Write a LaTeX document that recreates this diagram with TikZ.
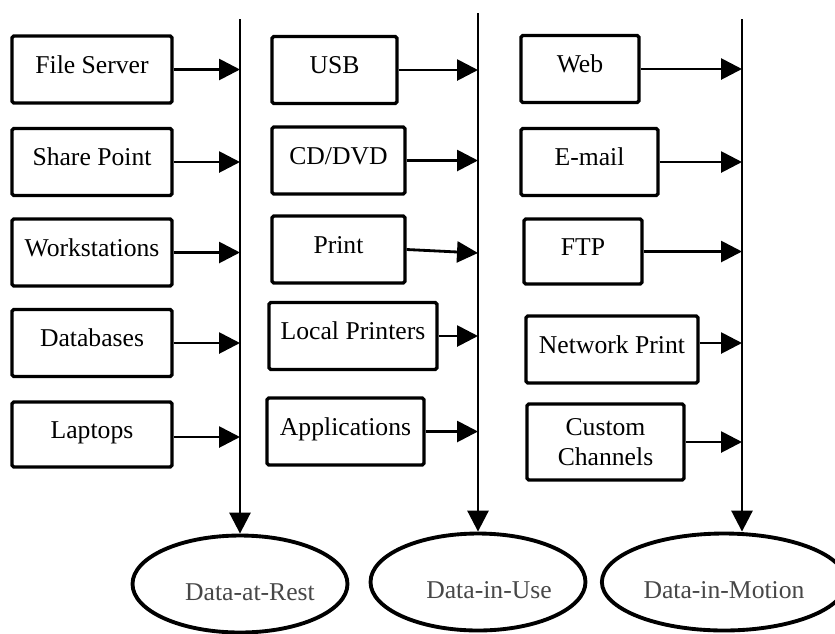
\documentclass[tikz,border=0pt]{standalone}
\usepackage{fontspec}
\setmainfont{Liberation Serif}
\usetikzlibrary{arrows.meta,shapes.geometric,calc}

\begin{document}
\begin{tikzpicture}[x=0.02cm,y=-0.02cm,
  box/.style={draw, line width=1.9pt, rounded corners=1pt, minimum height=1.34cm,
    font=\fontsize{14.6pt}{17pt}\selectfont, text height=12pt, text depth=8pt},
  store/.style={ellipse, draw, line width=2.2pt, minimum width=4.3cm, minimum height=1.94cm,
    font=\fontsize{14.6pt}{17pt}\selectfont, text=black!72, text height=19pt, text depth=0pt},
  arr/.style={line width=1.6pt, -{Triangle[length=0.42cm,width=0.42cm]}}]
\useasboundingbox (0,0) rectangle (835,633);

\coordinate (rtop) at (240,19);
\coordinate (utop) at (478,13);
\coordinate (mtop) at (742,19);

\node[store] (rest) at (240,584) {\hspace*{0.2cm}Data-at-Rest\hspace*{-0.2cm}};
\node[store] (use) at (478,582) {\hspace*{0.22cm}Data-in-Use\hspace*{-0.22cm}};
\node[store, minimum width=4.44cm] (motion) at (724,582) {Data-in-Motion};

\draw[arr] (rtop) -- (rest.north);
\draw[arr] (utop) -- (use.north);
\draw[arr] (mtop) -- (mtop |- motion.north);

% data at rest
\node[box, minimum width=3.2cm] (fs) at (92,69.5) {File Server};
\node[box, minimum width=3.2cm] (sp) at (92,162) {Share Point};
\node[box, minimum width=3.2cm] (ws) at (92,252.5) {Workstations};
\node[box, minimum width=3.2cm] (db) at (92,343) {Databases};
\node[box, minimum width=3.2cm, minimum height=1.3cm] (lt) at (92,434.5) {Laptops};
\foreach \n in {fs,sp,ws,db}
  \draw[arr] (\n) -- (\n -| rtop);
\draw[arr] ($(lt.east)+(0,2.5)$) -- ($(lt -| rtop)+(0,2.5)$);

% data in use
\node[box, minimum width=2.5cm] (usb) at (334.5,70) {USB};
\node[box, minimum width=2.66cm] (cd) at (338.5,160.5) {CD/DVD};
\node[box, minimum width=2.66cm] (pr) at (338.5,249.5) {Print};
\node[box, minimum width=3.36cm] (lp) at (353,336) {Local Printers};
\node[box, minimum width=3.14cm] (app) at (345.5,431.5) {Applications};
\foreach \n in {usb,cd,lp,app}
  \draw[arr] (\n) -- (\n -| utop);
\draw[arr] (pr.east) -- ($(pr.east -| utop)+(0,3.5)$);

% data in motion
\node[box, minimum width=2.36cm] (web) at (580,69) {Web};
\node[box, minimum width=2.74cm] (mail) at (589.5,162) {E-mail};
\node[box, minimum width=2.36cm, minimum height=1.3cm] (ftp) at (583,251.5) {FTP};
\node[box, minimum width=3.44cm] (np) at (612,349.5) {Network Print};
\node[box, minimum width=3.14cm, minimum height=1.52cm, align=center,
  text height=, text depth=] (cc) at (605.5,442) {Custom\\Channels};
\foreach \n in {web,mail,ftp,cc}
  \draw[arr] (\n) -- (\n -| mtop);
\draw[arr] ($(np.east)+(0,-6.5)$) -- ($(np.east -| mtop)+(0,-6.5)$);

\end{tikzpicture}
\end{document}
